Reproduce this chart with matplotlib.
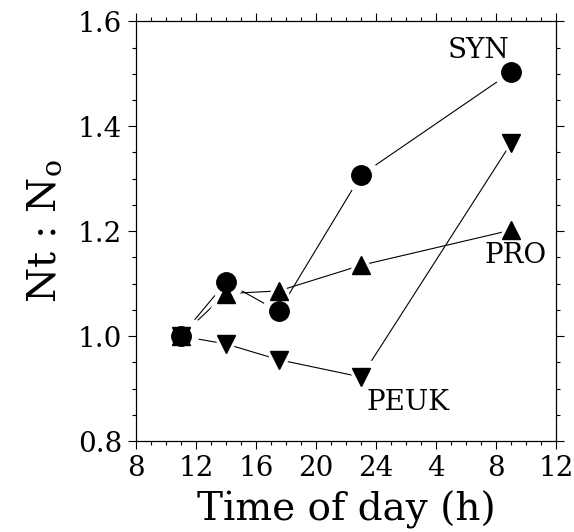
import matplotlib
matplotlib.use("Agg")
import matplotlib.pyplot as plt
from matplotlib.ticker import MultipleLocator, FixedLocator

# hours, continuous over midnight (24 -> 28 means 4 h next day)
hours = [11, 14, 17.5, 23, 33]
syn = [1.00, 1.103, 1.047, 1.307, 1.503]
pro = [1.00, 1.081, 1.086, 1.135, 1.202]
peuk = [1.00, 0.985, 0.955, 0.922, 1.368]

xticks = [8, 12, 16, 20, 24, 28, 32, 36]
xticklabels = ["8", "12", "16", "20", "24", "4", "8", "12"]
yticks = [0.8, 1.0, 1.2, 1.4, 1.6]

plt.rcParams["font.family"] = "DejaVu Serif"
plt.rcParams["mathtext.fontset"] = "dejavuserif"

fig = plt.figure(figsize=(5.74, 5.32), dpi=100)
ax = fig.add_axes([0.237, 0.171, 0.732, 0.789])

series = [
    (syn, "o", 14),
    (pro, "^", 13),
    (peuk, "v", 13),
]

# thin connecting lines first
for vals, m, ms in series:
    ax.plot(hours, vals, "-", color="black", lw=0.8, zorder=1)
# white halos so lines stop short of the symbols
for vals, m, ms in series:
    ax.plot(hours, vals, m, color="white", ms=ms + 10, mec="white", ls="none", zorder=2)
for vals, m, ms in series:
    ax.plot(hours, vals, m, color="black", ms=ms, mec="black", ls="none", zorder=3)

ax.text(30.8, 1.545, "SYN", fontsize=20, ha="center", va="center")
ax.text(33.3, 1.154, "PRO", fontsize=20, ha="center", va="center")
ax.text(26.1, 0.874, "PEUK", fontsize=20, ha="center", va="center")

ax.set_xlim(8, 36)
ax.set_ylim(0.8, 1.6)
ax.xaxis.set_major_locator(FixedLocator(xticks))
ax.set_xticklabels(xticklabels)
ax.xaxis.set_minor_locator(MultipleLocator(1))
ax.set_yticks(yticks)
ax.set_yticklabels([f"{v:.1f}" for v in yticks])
ax.yaxis.set_minor_locator(MultipleLocator(0.05))

ax.tick_params(which="both", direction="out", top=True, right=True, width=0.8)
ax.tick_params(which="major", length=6, labelsize=20, pad=4)
ax.tick_params(which="minor", length=3)
for s in ax.spines.values():
    s.set_linewidth(0.9)

ax.set_xlabel("Time of day (h)", fontsize=28, labelpad=6)
ax.set_ylabel(r"Nt : N$_{\mathrm{o}}$", fontsize=29, labelpad=10)

fig.savefig("out.png", dpi=100)
